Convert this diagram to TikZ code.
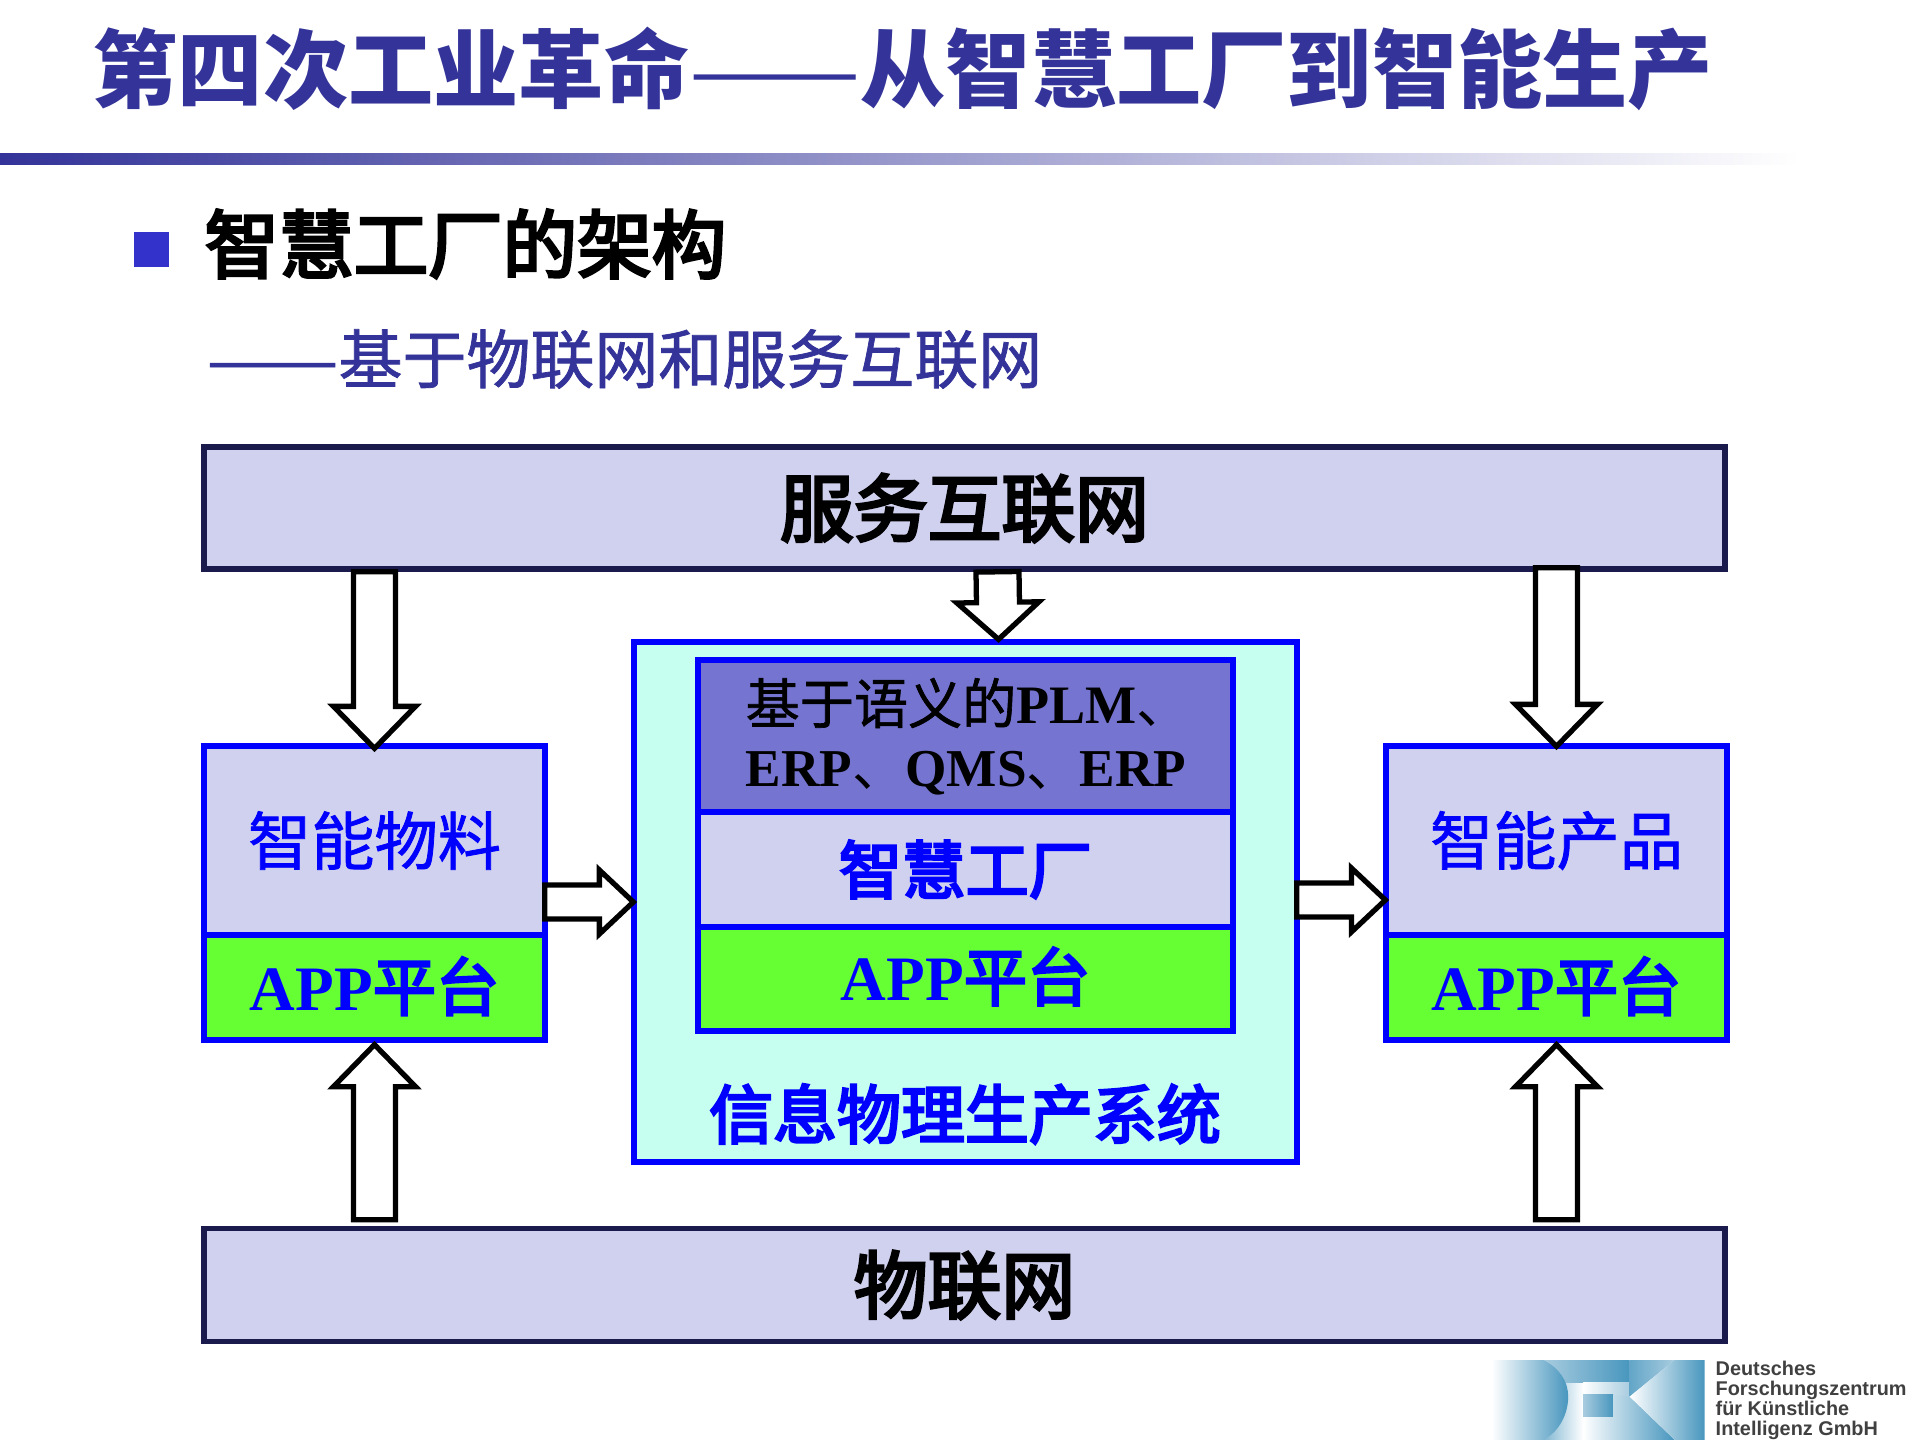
\documentclass[tikz,border=0pt]{standalone}
\usepackage{fontspec}
\usepackage{graphicx}
\setmainfont{Liberation Serif}
\newfontfamily\cjk{Noto Sans CJK SC}
\newfontfamily\cjkmed[FakeBold=1.2]{Noto Sans CJK SC}
\newfontfamily\cjkheavy[FakeBold=4]{Noto Sans CJK SC}
\newfontfamily\logofont{Liberation Sans}
\usetikzlibrary{calc}

\definecolor{titleblue}{HTML}{333399}
\definecolor{boxlilac}{HTML}{D0D0EF}
\definecolor{boxnavy}{HTML}{1A1A4C}
\definecolor{appgreen}{HTML}{66FF33}
\definecolor{cpscyan}{HTML}{C6FFF0}
\definecolor{plmviolet}{HTML}{7575D1}
\definecolor{bulletblue}{HTML}{3333CC}
\definecolor{logoblue}{HTML}{4896BE}
\definecolor{logopale}{HTML}{A8CCDF}

\tikzset{
  netbox/.style={rectangle, draw=boxnavy, fill=boxlilac, line width=1.6pt, inner sep=0pt},
  bluebox/.style={rectangle, draw=blue, fill=boxlilac, line width=1.5pt, inner sep=0pt},
  appbox/.style={bluebox, fill=appgreen},
  arrowbar/.style n args={3}{draw=black, fill=white, line width=1.5pt, line join=miter,
    to path={
      ($(\tikztostart)!#1!90:(\tikztotarget)$)
      -- ($($(\tikztotarget)!#3!(\tikztostart)$)!#1!-90:(\tikztostart)$)
      -- ($($(\tikztotarget)!#3!(\tikztostart)$)!#2!-90:(\tikztostart)$)
      -- (\tikztotarget)
      -- ($($(\tikztotarget)!#3!(\tikztostart)$)!#2!90:(\tikztostart)$)
      -- ($($(\tikztotarget)!#3!(\tikztostart)$)!#1!90:(\tikztostart)$)
      -- ($(\tikztostart)!#1!-90:(\tikztotarget)$)
      -- cycle}},
  bigarrow/.style={arrowbar={0.21cm}{0.41cm}{0.42cm}},
  smallarrow/.style={arrowbar={0.17cm}{0.32cm}{0.34cm}}
}

\begin{document}
\begin{tikzpicture}
  \useasboundingbox (0, 0) rectangle (19.2, -14.4);

  % title
  \node[text=titleblue, inner sep=0pt, anchor=west] (title) at (0.92, -0.69) {\fontsize{24.25pt}{28pt}\cjk\bfseries 第四次工业革命{\mdseries\scalebox{1.2}[1]{——}}从智慧工厂到智能生产};
  \shade[left color=titleblue, right color=white] (0, -1.53) rectangle (18, -1.64);

  \node[rectangle, fill=bulletblue, minimum size=0.35cm, inner sep=0pt] (bullet) at (1.51, -2.49) {};
  \node[inner sep=0pt, anchor=west] (heading) at (2.04, -2.44) {\fontsize{21.2pt}{25pt}\cjkheavy 智慧工厂的架构};
  \node[text=titleblue, inner sep=0pt, anchor=west] (subheading) at (2.06, -3.59) {\fontsize{18.2pt}{22pt}\cjkmed \scalebox{1.23}[1]{——}基于物联网和服务互联网};

  % boxes
  \node[netbox, minimum width=15.21cm, minimum height=1.22cm] (service) at (9.645, -5.08) {\fontsize{21pt}{25pt}\cjkheavy\raisebox{-0.06cm}{服务互联网}};
  \node[netbox, minimum width=15.21cm, minimum height=1.13cm] (iot) at (9.645, -12.85) {\fontsize{21pt}{25pt}\cjkheavy 物联网};

  \node[bluebox, minimum width=3.41cm, minimum height=1.89cm] (material) at (3.745, -8.405) {\fontsize{18pt}{22pt}\color{blue}\cjkmed 智能物料};
  \node[appbox, minimum width=3.41cm, minimum height=1.05cm] (matapp) at (3.745, -9.875) {\fontsize{18pt}{22pt}\color{blue}\bfseries\raisebox{0.075cm}{APP{\mdseries\cjkheavy 平台}}};

  \node[bluebox, minimum width=3.41cm, minimum height=1.89cm] (product) at (15.565, -8.405) {\fontsize{18pt}{22pt}\color{blue}\cjkmed 智能产品};
  \node[appbox, minimum width=3.41cm, minimum height=1.05cm] (prodapp) at (15.565, -9.875) {\fontsize{18pt}{22pt}\color{blue}\bfseries\raisebox{0.075cm}{APP{\mdseries\cjkheavy 平台}}};

  \node[bluebox, fill=cpscyan, minimum width=6.63cm, minimum height=5.2cm] (cps) at (9.655, -9.02) {};
  \node[inner sep=0pt] (cpslabel) at (9.65, -11.14) {\fontsize{18.2pt}{22pt}\color{blue}\cjkheavy 信息物理生产系统};

  \node[bluebox, fill=plmviolet, minimum width=5.35cm, minimum height=1.52cm] (plm) at (9.655, -7.36) {};
  \node[inner sep=0pt, anchor=west] (plmtop) at (7.45, -7.03) {\fontsize{15.4pt}{18pt}\bfseries{\cjkmed\mdseries 基于语义的}PLM{\cjk\mdseries 、}};
  \node[inner sep=0pt, anchor=west] (plmbot) at (7.45, -7.73) {\fontsize{15.15pt}{18pt}\bfseries ERP{\cjk\mdseries 、}QMS{\cjk\mdseries 、}ERP};
  \node[bluebox, minimum width=5.35cm, minimum height=1.15cm] (factory) at (9.655, -8.695) {\fontsize{18pt}{22pt}\color{blue}\cjkheavy 智慧工厂};
  \node[appbox, minimum width=5.35cm, minimum height=1.04cm] (cpsapp) at (9.655, -9.79) {\fontsize{18pt}{22pt}\color{blue}\bfseries\raisebox{0.1cm}{APP{\mdseries\cjkheavy 平台}}};

  % arrows
  \draw[bigarrow] (service.south -| material.north) to ([yshift=-0.05cm]material.north);
  \draw[arrowbar={0.215cm}{0.41cm}{0.37cm}] ([xshift=0.33cm]service.south) to ([xshift=0.33cm]cps.north);
  \draw[bigarrow] ([yshift=0.04cm]service.south -| product.north) to ([yshift=-0.03cm]product.north);
  \draw[bigarrow] ([yshift=0.06cm]iot.north -| matapp.south) to ([yshift=-0.02cm]matapp.south);
  \draw[bigarrow] ([yshift=0.06cm]iot.north -| prodapp.south) to ([yshift=-0.02cm]prodapp.south);
  \draw[smallarrow] ([xshift=-0.03cm]material.east |- 0, -9.02) to ([xshift=0.02cm]cps.west |- 0, -9.02);
  \draw[smallarrow] ([xshift=-0.03cm]cps.east |- 0, -9.0) to ([xshift=0.02cm]product.west |- 0, -9.0);

  % logo
  \begin{scope}[shift={(14.85, -13.55)}, x=0.00333cm, y=-0.00333cm]
    \shade[left color=logoblue!70!white, right color=white] (175, 15) rectangle (295, 255);
    \shade[left color=logopale, right color=logoblue] (175, 15) rectangle (435, 82);
    \shade[left color=white, right color=logopale] (295, 82) rectangle (435, 125);
    \shade[left color=logopale, right color=logoblue] (295, 120) rectangle (385, 187);
    \shade[left color=white, right color=logoblue] (295, 187) -- (385, 187) -- (385, 120) -- (435, 125) -- (570, 255) -- (295, 255) -- cycle;
    \shade[left color=logoblue!85!white, right color=logopale] (435, 15) -- (570, 15) -- (435, 125) -- cycle;
    \shade[left color=white, right color=logoblue] (435, 125) -- (570, 15) -- (660, 15) -- (660, 255) -- (570, 255) -- cycle;
    \shade[left color=white, right color=logoblue] (20, 15) -- (175, 15) .. controls (225, 40) and (250, 80) .. (250, 125) .. controls (250, 175) and (225, 230) .. (175, 255) -- (20, 255) -- cycle;
  \end{scope}
  \node[inner sep=0pt, anchor=north west, align=left, text=black!75, font=\logofont\bfseries\fontsize{5.65pt}{5.7pt}\selectfont] (logotext) at (17.15, -13.6) {Deutsches\\Forschungszentrum\\für Künstliche\\Intelligenz GmbH};
\end{tikzpicture}
\end{document}
